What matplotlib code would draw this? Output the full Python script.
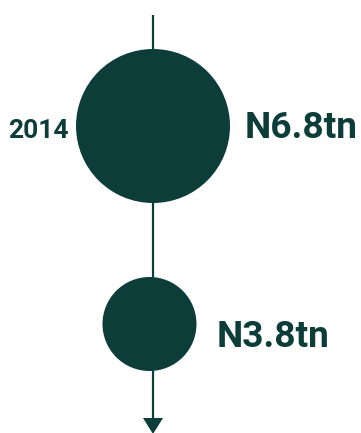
import matplotlib
matplotlib.use("Agg")
import matplotlib.pyplot as plt
from matplotlib.patches import Circle, Polygon

# Values shown on the timeline
years = ["2014", ""]
amounts = [6.8, 3.8]
amount_labels = ["N6.8tn", "N3.8tn"]

# Layout (pixel space, y grows downward)
W, H = 361, 433
DPI = 100
color = "#0c3d39"
centers = [(153, 126), (149.5, 324)]
radii = [77, 47]
label_baselines = [138, 346.7]
value_x = [245, 217]
year_right = 69
line_x = 153
line_top = 15
arrow_top = 418
arrow_tip = 434
arrow_half = 10

fig = plt.figure(figsize=(W / DPI, H / DPI), dpi=DPI)
ax = fig.add_axes([0, 0, 1, 1])
ax.set_xlim(0, W)
ax.set_ylim(H, 0)
ax.axis("off")

# Vertical timeline with arrow head
ax.plot([line_x, line_x], [line_top, arrow_top], color=color, lw=1.6,
        solid_capstyle="butt", zorder=1)
ax.add_patch(Polygon([(line_x - arrow_half, arrow_top),
                      (line_x + arrow_half, arrow_top),
                      (line_x, arrow_tip)], closed=True,
                     facecolor=color, edgecolor="none", zorder=2))

for (cx, cy), r, yr, lab, vx, base in zip(centers, radii, years, amount_labels,
                                           value_x, label_baselines):
    ax.add_patch(Circle((cx, cy), r, facecolor=color, edgecolor="none", zorder=3))
    ax.text(vx, base, lab, fontsize=26.7, fontweight="bold", family="Roboto",
            color=color, ha="left", va="baseline")
    if yr:
        ax.text(year_right, 137.5, yr, fontsize=19, fontweight="bold",
                family="Roboto", color=color, ha="right", va="baseline")

fig.savefig("out.png", dpi=DPI)
